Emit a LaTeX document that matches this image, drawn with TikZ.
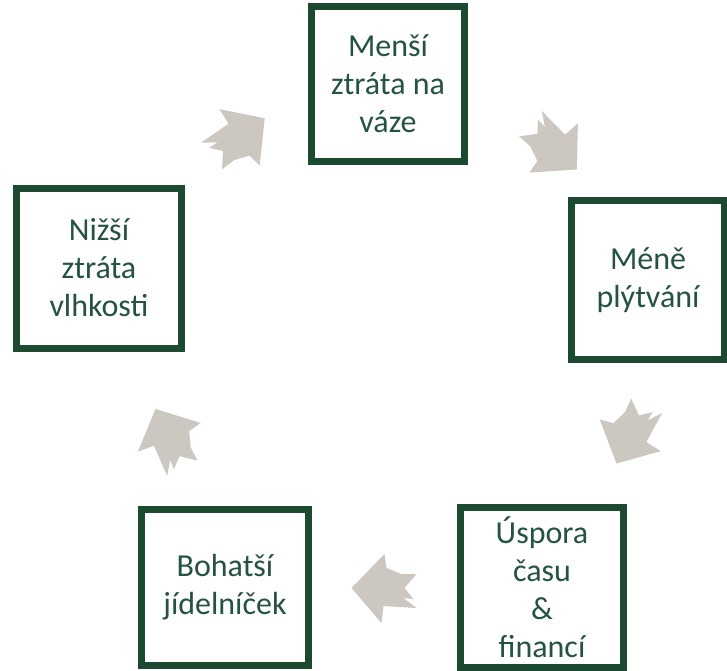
\documentclass[tikz,border=0pt]{standalone}
\usepackage{fontspec}
\setmainfont{Carlito}
\usetikzlibrary{calc}
\definecolor{boxgreen}{HTML}{1B4A31}
\definecolor{textgreen}{HTML}{24533F}
\definecolor{leafgray}{HTML}{CCC7C1}
\tikzset{
  card/.style={draw=boxgreen, line width=7pt, fill=white, align=center,
    text=textgreen, font=\fontsize{32}{38}\selectfont, inner sep=0pt,
    minimum width=155pt, minimum height=157pt},
  leaf/.pic={\fill[leafgray] (32,0) -- (2,35) -- (0,18) -- (-33,20) -- (-20,10)
    -- (-30,11) -- (-21,0) -- (-33,-14) -- (-18,-14) -- (-3,-20) -- (-1,-34) -- cycle;}
}
\begin{document}
\begin{tikzpicture}[x=1pt, y=1pt]
    \useasboundingbox[fill=white] (0,0) rectangle (727,-670);
    \node[card, minimum width=153pt, minimum height=155pt] (mensi) at (388,-84) {Menší\\ztráta na\\váze};
    \node[card, minimum width=153pt, minimum height=159pt] (mene) at (648,-280) {Méně\\plýtvání};
    \node[card, minimum width=163pt, minimum height=160pt] (uspora) at (542,-587) {Úspora\\času\\\&\\financí};
    \node[card, minimum width=167pt, minimum height=156pt] (bohatsi) at (225,-587) {Bohatší\\jídelníček};
    \node[card, minimum width=165pt, minimum height=160pt] (nizsi) at (99,-268) {Nižší\\ztráta\\vlhkosti};
    % arrows round the cycle
    \pic[rotate=38] at ($(nizsi)!0.5!(mensi)+(-4,38)$) {leaf};
    \pic[rotate=-42] at ($(mensi)!0.5!(mene)+(35,34)$) {leaf};
    \pic[rotate=-115] at ($(mene)!0.5!(uspora)+(35,-1)$) {leaf};
    \pic[rotate=180] at ($(uspora)!0.5!(bohatsi)+(0,-1)$) {leaf};
    \pic[rotate=117] at ($(bohatsi)!0.5!(nizsi)+(8,-10)$) {leaf};
\end{tikzpicture}
\end{document}
